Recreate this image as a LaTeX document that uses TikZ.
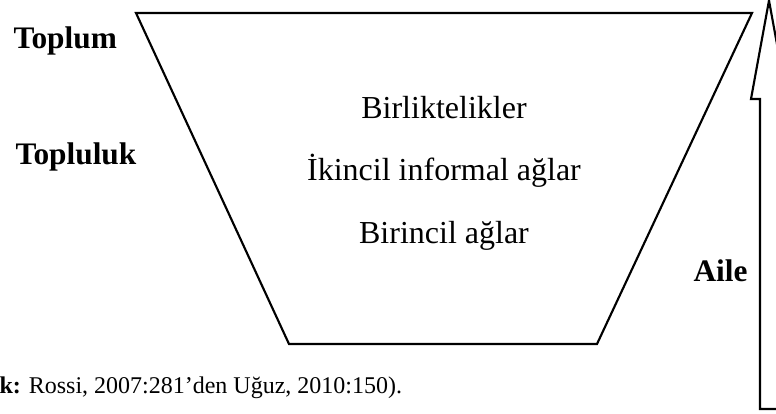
\documentclass[tikz,border=0pt]{standalone}
\usepackage{fontspec}
\setmainfont{Liberation Serif}
\begin{document}
\begin{tikzpicture}[x=0.75pt, y=-0.75pt, line width=1.6pt, line join=miter,
    level/.style={font=\fontsize{24}{28}\selectfont, anchor=base},
    side/.style={font=\fontsize{23.5}{27}\selectfont\bfseries},
    source/.style={font=\fontsize{18}{22}\selectfont, anchor=base west}]
        \useasboundingbox (0,0) rectangle (776,414);
        \clip (0,0) rectangle (776,414);

        % funnel
        \draw (136,13) -- (752,13) -- (597,344) -- (289,344) -- cycle;

        % levels inside the funnel
        \node [level] (birlik) at (444,118) {Birliktelikler};
        \node [level] (ikincil) at (444,180) {İkincil informal ağlar};
        \node [level] (birincil) at (444,243) {Birincil ağlar};

        % labels on the left
        \node [side, anchor=base west] (toplum) at (8,48) {Toplum};
        \node [side, anchor=base west] (topluluk) at (10,164) {Topluluk};

        % upward arrow
        \draw (769,0.5) -- (787,99) -- (778,99) -- (778,409) -- (760,409)
            -- (760,99) -- (751,99) -- cycle;
        \node [side, anchor=base east] (aile) at (753,281) {Aile};

        % source line
        \node [source] (kaynak) at (-6,393) {\textbf{k:} Rossi, 2007:281’den Uğuz, 2010:150).};
\end{tikzpicture}
\end{document}
